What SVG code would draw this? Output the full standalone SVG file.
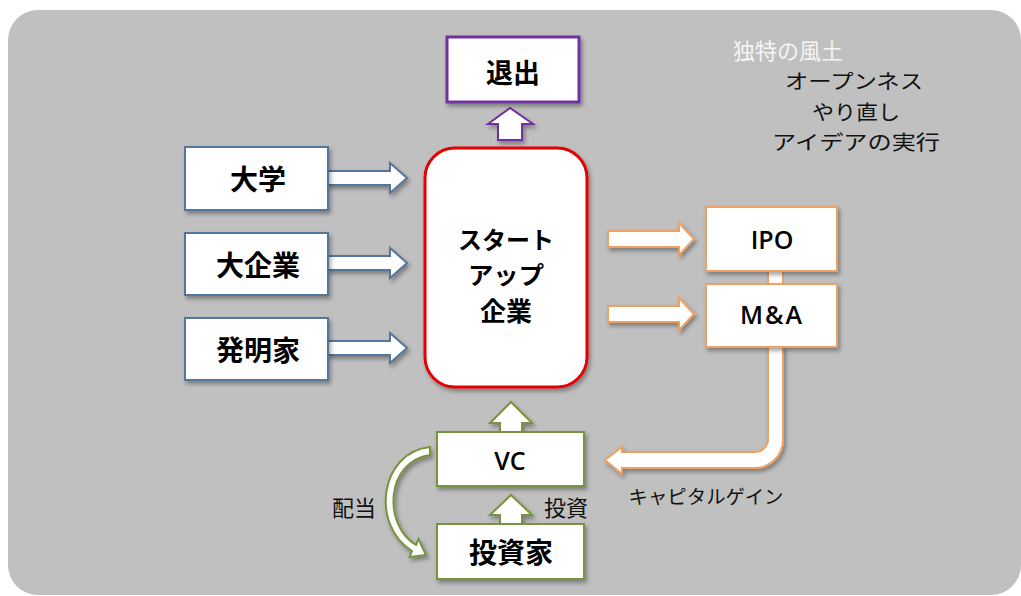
<svg xmlns="http://www.w3.org/2000/svg" width="1021" height="596" viewBox="0 0 1021 596">
<defs>
<filter id="sh" x="-20%" y="-20%" width="140%" height="150%">
<feDropShadow dx="2" dy="3" stdDeviation="2" flood-color="#000" flood-opacity="0.35"/>
</filter>
<style>
.jb{font-family:"Noto Sans CJK JP",sans-serif;font-weight:700;fill:#000;text-anchor:middle;dominant-baseline:central}
.jn{font-family:"Noto Sans CJK JP",sans-serif;font-weight:400;fill:#111;text-anchor:middle;dominant-baseline:central}
.lt{font-family:"Open Sans","Liberation Sans",sans-serif;font-weight:600;fill:#000;text-anchor:middle;dominant-baseline:central;font-size:25px}
.blue{fill:#fff;stroke:#56749c;stroke-width:2}
.org{fill:#fff;stroke:#f0a060;stroke-width:2}
.grn{fill:#fff;stroke:#77933c;stroke-width:2}
.pur{fill:#fff;stroke:#7030a0;stroke-width:2}
</style>
</defs>
<rect x="0" y="0" width="1021" height="596" fill="#fff"/>
<rect x="8" y="10" width="1013" height="585" rx="30" fill="#c0c0c0"/>

<g id="connectors">
<polygon class="blue" filter="url(#sh)" points="328,171 390,171 390,163 407,178 390,193 390,185 328,185"/>
<polygon class="blue" filter="url(#sh)" points="328,256 390,256 390,248 407,263 390,278 390,270 328,270"/>
<polygon class="blue" filter="url(#sh)" points="328,341 390,341 390,333 407,348 390,363 390,355 328,355"/>
<polygon class="pur" filter="url(#sh)" points="498,140 498,124 488,124 510,108 533,124 522,124 522,140"/>
<polygon class="org" filter="url(#sh)" points="608,231 679,231 679,223 694,239 679,255 679,247 608,247"/>
<polygon class="org" filter="url(#sh)" points="608,306 679,306 679,298 694,314 679,330 679,322 608,322"/>
<rect class="org" x="768" y="270" width="15" height="15"/>
<path class="org" filter="url(#sh)" d="M783,347 L783,440 A28,28 0 0 1 755,468 L622,468 L622,474 L605,460 L622,447 L622,452 L755,452 A13,13 0 0 0 768,439 L768,347 Z"/>
<polygon class="grn" filter="url(#sh)" points="500,432 500,423 490,423 511,402 532,423 522,423 522,432"/>
<polygon class="grn" filter="url(#sh)" points="500,524 500,515 490,515 511,495 532,515 522,515 522,524"/>
<path class="grn" filter="url(#sh)" d="M430,447 C380,452 370,525 412,551 L409.5,557 L426,555 L418.5,539 L416,545 C383,525 385,462 430,455 Z"/>
</g>

<g id="exit"><rect class="pur" x="447" y="37" width="132" height="65" style="stroke-width:3" filter="url(#sh)"/><text class="jb" x="513" y="71" font-size="27">退出</text></g>
<g id="startup"><rect x="425" y="148" width="162" height="239" rx="30" fill="#fff" stroke="#e60000" stroke-width="3" filter="url(#sh)"/>
<text class="jb" x="506" y="238" font-size="24" textLength="96" lengthAdjust="spacingAndGlyphs">スタート</text>
<text class="jb" x="506" y="273" font-size="24" textLength="76" lengthAdjust="spacingAndGlyphs">アップ</text>
<text class="jb" x="506" y="309" font-size="26">企業</text></g>
<g id="univ"><rect class="blue" x="185" y="147" width="143" height="63" filter="url(#sh)"/><text class="jb" x="258" y="178" font-size="28">大学</text></g>
<g id="corp"><rect class="blue" x="185" y="233" width="143" height="62" filter="url(#sh)"/><text class="jb" x="258" y="264" font-size="28">大企業</text></g>
<g id="inventor"><rect class="blue" x="185" y="318" width="143" height="62" filter="url(#sh)"/><text class="jb" x="258" y="349" font-size="28">発明家</text></g>
<g id="ipo"><rect class="org" x="706" y="207" width="131" height="64" filter="url(#sh)"/><text class="lt" x="772" y="239">IPO</text></g>
<g id="ma"><rect class="org" x="706" y="284" width="131" height="63" filter="url(#sh)"/><text class="lt" x="772" y="314" letter-spacing="2">M&amp;A</text></g>
<g id="vc"><rect class="grn" x="437" y="432" width="147" height="54" filter="url(#sh)"/><text class="lt" x="510" y="460">VC</text></g>
<g id="investor"><rect class="grn" x="437" y="524" width="147" height="55" filter="url(#sh)"/><text class="jb" x="511" y="551" font-size="28">投資家</text></g>

<g id="labels">
<text class="jn" x="566" y="506" font-size="22">投資</text>
<text class="jn" x="354" y="506" font-size="22">配当</text>
<text class="jn" x="706" y="495" font-size="19" textLength="155" lengthAdjust="spacingAndGlyphs">キャピタルゲイン</text>
<text class="jn" x="788" y="49" font-size="22" style="fill:#f5f5f5">独特の風土</text>
<text class="jn" x="854" y="80" font-size="20" textLength="138" lengthAdjust="spacingAndGlyphs">オープンネス</text>
<text class="jn" x="856" y="111" font-size="20" textLength="88" lengthAdjust="spacingAndGlyphs">やり直し</text>
<text class="jn" x="856" y="141" font-size="20" textLength="168" lengthAdjust="spacingAndGlyphs">アイデアの実行</text>
</g>
</svg>
